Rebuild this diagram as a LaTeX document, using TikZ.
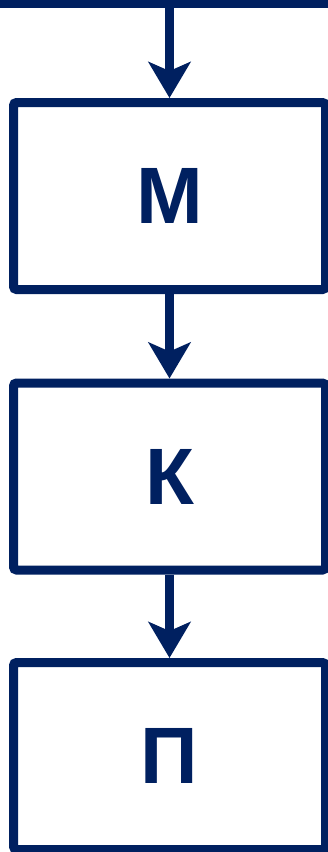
\documentclass[tikz,border=0pt]{standalone}
\usepackage{fontspec}
\setmainfont{Liberation Sans}
\usetikzlibrary{arrows.meta}
\definecolor{navy}{RGB}{0,32,96}
\begin{document}
\begin{tikzpicture}[x=1pt,y=1pt,
  blk/.style={draw=navy, line width=9pt, rounded corners=3pt, minimum width=312pt, minimum height=187pt, inner sep=0pt, fill=white, text=navy, font=\fontsize{80}{80}\selectfont\bfseries},
  conn/.style={draw=navy, line width=9pt, -{Stealth[length=36pt,width=42pt,inset=9pt]}}]
\useasboundingbox (0,0) rectangle (328,-852);
\node[blk] (m) at (169.5,-196) {М};
\node[blk] (k) at (169.5,-476.5) {К};
\node[blk] (p) at (169.5,-756) {П};
\coordinate (tl) at (0,-3.5);
\coordinate (tr) at (332,-3.5);
\coordinate (tc) at (169.5,-3.5);
\draw[draw=navy, line width=9pt] (tl) -- (tr);
\draw[conn] (tc) -- (m.north);
\draw[conn] (m.south) -- (k.north);
\draw[conn] (k.south) -- (p.north);
\end{tikzpicture}
\end{document}
